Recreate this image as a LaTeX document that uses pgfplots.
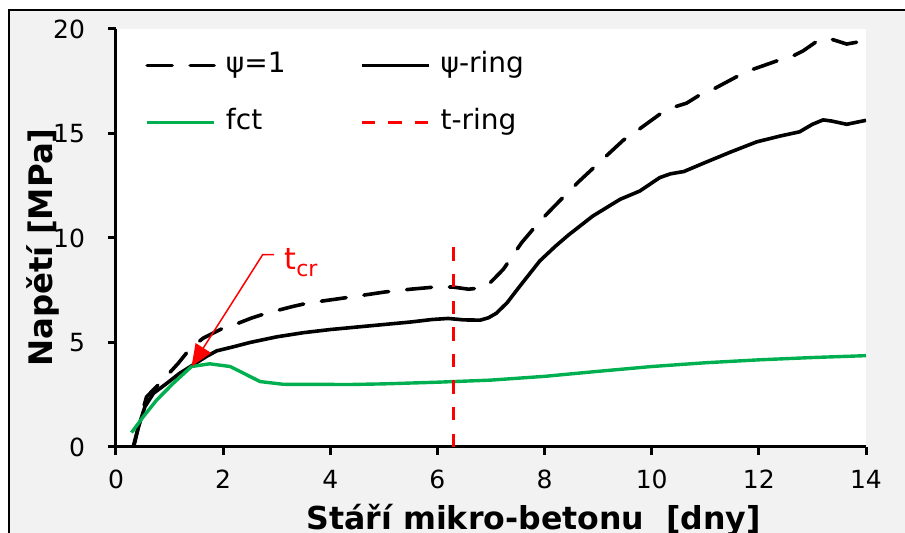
\documentclass[border=0pt]{standalone}
\usepackage{fontspec}
\setmainfont{DejaVu Sans}
\usepackage{pgfplots}
\pgfplotsset{compat=1.18}
\usetikzlibrary{arrows.meta}
\definecolor{bggray}{HTML}{F2F2F2}
\definecolor{fctgreen}{HTML}{00B050}

\begin{document}
\begin{tikzpicture}
\clip (-58pt,-43pt) rectangle (394.5pt,223.5pt);
\fill[white] (-58pt,-43pt) rectangle (394.5pt,223.5pt);
\filldraw[fill=bggray, draw=black, line width=0.8pt] (-53.5pt,-70pt) rectangle (430pt,218.5pt);
\begin{axis}[
  at={(0pt,0pt)}, anchor=south west,
  scale only axis, width=375pt, height=209pt,
  xmin=0, xmax=14, ymin=0, ymax=20,
  axis x line*=bottom, axis y line*=left,
  axis line style={line width=1.5pt, black},
  axis background/.style={fill=white},
  xtick={0,2,...,14}, ytick={0,5,...,20},
  tick align=outside, major tick length=4pt,
  tick style={black, line width=1.5pt},
  /pgf/number format/assume math mode=true,
  tick label style={font=\fontsize{12.5}{14}\selectfont},
  xticklabel style={yshift=-4pt},
  yticklabel style={xshift=-8pt},
  xlabel={Stáří mikro-betonu~\ [dny]},
  ylabel={Napětí [MPa]},
  xlabel style={font=\bfseries\fontsize{15.8}{18}\selectfont, at={(axis description cs:0.557,0)}, anchor=base, yshift=-41.5pt},
  ylabel style={font=\bfseries\fontsize{16.2}{18}\selectfont, at={(axis description cs:0,0.477)}, anchor=base, yshift=31.5pt},
  legend columns=2,
  legend cell align=left,
  legend image code/.code={\draw[#1] (0pt,0pt) -- (33.5pt,0pt);},
  legend style={at={(rel axis cs:0,1)}, anchor=north west, xshift=14.5pt, yshift=-9.5pt,
    draw=none, fill=none, inner sep=0pt, cells={anchor=west},
    column sep=3pt, row sep=11.5pt,
    font=\fontsize{14}{16}\selectfont,
    nodes={inner sep=2pt, text height=10pt, text depth=3pt, text width=62pt, align=left}},
]
\addplot[black, line width=1.8pt, line cap=round, dash pattern=on 12.5pt off 9pt] coordinates {
(0.33,0) (0.45,1.3) (0.57,2.4) (0.8,3.0) (1.0,3.55) (1.16,4.0) (1.34,4.57) (1.5,4.95) (1.63,5.21) (2.0,5.69) (2.16,5.8) (2.53,6.17) (2.81,6.4) (3.31,6.73) (3.59,6.89) (4.12,7.08) (4.5,7.22) (5.03,7.42) (5.5,7.55) (6.03,7.67) (6.3,7.65) (6.58,7.55) (6.85,7.62) (7.0,7.9) (7.23,8.5) (7.57,9.77) (7.91,10.8) (8.29,11.8) (8.66,12.75) (9.1,13.8) (9.47,14.68) (9.72,15.12) (10.15,15.92) (10.4,16.25) (10.65,16.45) (10.87,16.8) (11.15,17.12) (11.61,17.75) (11.9,18.08) (12.4,18.53) (12.67,18.75) (12.83,18.96) (13.1,19.44) (13.25,19.55) (13.38,19.49) (13.64,19.28) (13.92,19.41) (14,19.45)
};
\addlegendentry{ψ=1}
\addplot[black, line width=1.8pt] coordinates {
(0.32,0) (0.42,0.97) (0.54,1.93) (0.7,2.57) (0.95,3.05) (1.19,3.53) (1.44,3.93) (1.7,4.35) (1.88,4.6) (2.2,4.8) (2.5,5.0) (3.0,5.27) (3.5,5.47) (4.0,5.62) (4.5,5.74) (5.0,5.86) (5.5,5.98) (5.9,6.1) (6.2,6.15) (6.5,6.08) (6.8,6.07) (6.95,6.18) (7.1,6.4) (7.3,6.9) (7.54,7.7) (7.91,8.9) (8.2,9.6) (8.45,10.15) (8.9,11.05) (9.41,11.85) (9.78,12.25) (10.15,12.89) (10.35,13.07) (10.6,13.18) (10.96,13.57) (11.46,14.1) (11.96,14.6) (12.4,14.88) (12.76,15.08) (13.0,15.44) (13.2,15.65) (13.35,15.6) (13.64,15.44) (14,15.63)
};
\addlegendentry{ψ-ring}
\addplot[fctgreen, line width=1.7pt] coordinates {
(0.29,0.69) (0.51,1.45) (0.76,2.25) (1.07,3.05) (1.41,3.85) (1.75,3.98) (2.13,3.85) (2.38,3.53) (2.69,3.13) (3.12,3.0) (4.37,2.99) (5,3.02) (6,3.1) (7,3.2) (8,3.38) (9,3.62) (10,3.85) (11,4.03) (12,4.17) (13,4.28) (14,4.37)
};
\addlegendentry{fct}
\addplot[red, line width=1.5pt, dash pattern=on 6.7pt off 6.6pt] coordinates {(6.3,0) (6.3,10.0)};
\addlegendentry{t-ring}
\draw[red, line width=0.75pt, -{Triangle[length=11pt,width=9pt]}] (axis cs:2.95,9.21) -- (axis cs:2.74,9.21) -- (axis cs:1.41,3.85);
\node[anchor=base west, inner sep=0pt, text=red, font=\fontsize{15}{15}\selectfont] at (axis cs:3.14,8.49) {t\raisebox{-3.3pt}{\fontsize{11}{11}\selectfont cr}};
\end{axis}
\end{tikzpicture}
\end{document}
